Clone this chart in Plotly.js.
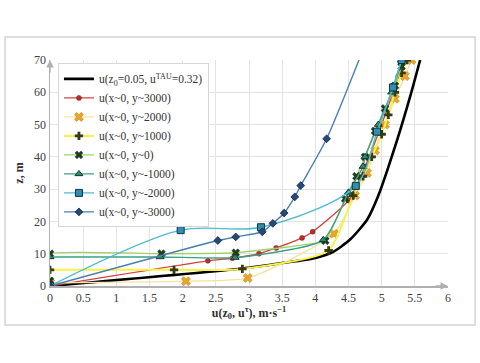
<!DOCTYPE html>
<html>
<head>
<meta charset="utf-8">
<script src="https://cdn.plot.ly/plotly-3.0.1.min.js"></script>
<style>
  body { margin: 0; background: #fff; }
  #chart { width: 480px; height: 363px; }
</style>
</head>
<body>
<div id="chart"></div>
<script>
// series: u (x) and z (height)
const logU = [0, 2.9, 3.5, 4.0, 4.27, 4.52, 4.78, 4.95, 5.23, 5.43, 5.58];
const logZ = [0, 5.4, 7.1, 8.7, 10.6, 14.3, 20.5, 28, 45, 58.7, 70];

const y3000U = [0, 2.38, 2.75, 3.15, 3.41, 3.8, 3.96, 4.5, 4.75, 5.0, 5.25, 5.32];
const y3000Z = [0, 7.8, 8.6, 10.0, 11.8, 14.9, 16.8, 26.5, 37, 50, 65, 70];

const y2000U = [0, 2.05, 2.98, 4.28, 4.6, 4.78, 4.9, 5.05, 5.2, 5.35, 5.45];
const y2000Z = [1, 1.5, 2.5, 16.2, 28, 35, 42, 50, 58, 65, 70];

const y1000U = [0, 1.87, 2.9, 4.2, 4.57, 4.72, 4.85, 5.0, 5.1, 5.2, 5.3, 5.38];
const y1000Z = [5, 5, 5.3, 11, 28, 34, 40, 47, 53, 60, 66, 70];

const y0U = [0, 0, 1.68, 2.8, 4.15, 4.45, 4.62, 4.75, 4.9, 5.05, 5.2, 5.3];
const y0Z = [1.6, 10, 10, 10.3, 14, 27, 34, 40, 48, 55, 62, 68];

const ym1000U = [0, 1.66, 2.79, 4.12, 4.5, 4.72, 4.75, 4.95, 5.15, 5.3];
const ym1000Z = [9, 9, 8.8, 14.3, 29, 37, 40, 50, 60, 70];

const ym2000U = [0, 1.97, 3.18, 4.61, 4.93, 5.17, 5.3];
const ym2000Z = [0, 17.3, 18.2, 31, 47.8, 61.5, 70];

// last point sits above the plotted range, the line is cut at z = 70
const ym3000U = [0, 2.53, 2.8, 3.2, 3.36, 3.53, 3.69, 3.78, 4.17, 4.85];
const ym3000Z = [0, 14.1, 15.2, 16.8, 19.4, 22.6, 27.6, 31.1, 45.6, 80];

const names = [
  'u(z<sub>0</sub>=0.05, u<sup>TAU</sup>=0.32)',
  'u(x~0, y~3000)',
  'u(x~0, y~2000)',
  'u(x~0, y~1000)',
  'u(x~0, y~0)',
  'u(x~0, y~-1000)',
  'u(x~0, y~-2000)',
  'u(x~0, y~-3000)'
];

function series(name, x, y, lineColor, width, marker, smooth) {
  const t = {
    x: x, y: y, name: name, type: 'scatter',
    mode: marker ? 'lines+markers' : 'lines',
    line: { color: lineColor, width: width, shape: 'spline', smoothing: smooth || 0.6 },
    cliponaxis: true
  };
  if (marker) t.marker = marker;
  return t;
}

const traces = [
  series(names[0], logU, logZ, '#000000', 2.6, null),
  series(names[1], y3000U, y3000Z, '#d2443e', 1.4,
    { symbol: 'circle', size: 5, color: '#b3312c', line: { color: '#7a1f1c', width: 0.5 } }),
  series(names[2], y2000U, y2000Z, '#f7e3a0', 1.4,
    { symbol: 'x', size: 8, color: '#e8a52a', line: { color: '#b77d12', width: 0.5 } }),
  series(names[3], y1000U, y1000Z, '#f8f24a', 2,
    { symbol: 'cross', size: 7, color: '#3a3a10', line: { color: '#3a3a10', width: 0 } }),
  series(names[4], y0U, y0Z, '#9fd36a', 1.4,
    { symbol: 'x', size: 7, color: '#1d3b1d', line: { color: '#1d3b1d', width: 0.5 } }, 0.25),
  series(names[5], ym1000U, ym1000Z, '#3f9f83', 1.4,
    { symbol: 'triangle-up', size: 7, color: '#2e8a70', line: { color: '#123a2e', width: 1 } }),
  series(names[6], ym2000U, ym2000Z, '#4fbad0', 1.4,
    { symbol: 'square', size: 7, color: '#2f8fb0', line: { color: '#0f3346', width: 1 } }, 0.9),
  series(names[7], ym3000U, ym3000Z, '#4b7fae', 1.4,
    { symbol: 'diamond', size: 6, color: '#234a78', line: { color: '#10243d', width: 0.8 } })
];

const font = 'Liberation Serif, DejaVu Serif, serif';

const layout = {
  width: 480, height: 363,
  margin: { l: 50, r: 32, t: 60, b: 77 },
  paper_bgcolor: '#ffffff', plot_bgcolor: '#ffffff',
  font: { family: font, size: 12, color: '#404040' },
  showlegend: true,
  legend: {
    x: 0.02, y: 0.985, xanchor: 'left', yanchor: 'top',
    bgcolor: '#ffffff', bordercolor: '#d6d6d6', borderwidth: 1,
    font: { family: font, size: 11.5, color: '#333333' },
    tracegroupgap: 0, itemwidth: 30
  },
  xaxis: {
    range: [0, 6], dtick: 0.5, tick0: 0,
    showgrid: true, gridcolor: '#e4e4e4', gridwidth: 1,
    zeroline: false, showline: true, linecolor: '#b0b0b0', linewidth: 1.5,
    ticks: '', tickfont: { family: font, size: 12, color: '#404040' },
    title: { text: '<b>u(z<sub>0</sub>, u<sup>τ</sup>), m·s<sup>−1</sup></b>',
      font: { family: font, size: 12, color: '#303030' }, standoff: 4 }
  },
  yaxis: {
    range: [0, 70], dtick: 10,
    showgrid: true, gridcolor: '#e4e4e4', gridwidth: 1,
    zeroline: false, showline: true, linecolor: '#b0b0b0', linewidth: 1.5,
    ticks: '', tickfont: { family: font, size: 12, color: '#404040' },
    title: { text: '<b>z, m</b>', font: { family: font, size: 12, color: '#303030' }, standoff: 8 }
  },
  shapes: [{
    type: 'rect', xref: 'paper', yref: 'paper',
    x0: -0.113, x1: 1.068, y0: -0.173, y1: 1.102,
    line: { color: '#d4d4d4', width: 1.5 }, fillcolor: 'rgba(0,0,0,0)'
  }],
  annotations: [
    { x: 6, y: 0, xref: 'x', yref: 'y', ax: -14, ay: 0, text: '', showarrow: true,
      arrowhead: 2, arrowsize: 1, arrowwidth: 1.5, arrowcolor: '#b0b0b0' },
    { x: 0, y: 70, xref: 'x', yref: 'y', ax: 0, ay: 14, text: '', showarrow: true,
      arrowhead: 2, arrowsize: 1, arrowwidth: 1.5, arrowcolor: '#b0b0b0' }
  ]
};

Plotly.newPlot('chart', traces, layout, { displayModeBar: false, staticPlot: true });
</script>
</body>
</html>
